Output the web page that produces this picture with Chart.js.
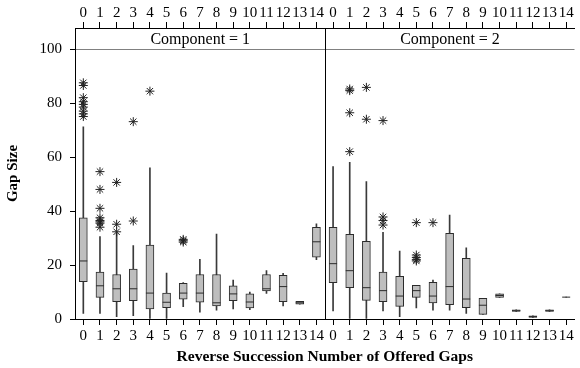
<!DOCTYPE html>
<html>
<head>
<meta charset="utf-8">
<script src="https://cdn.jsdelivr.net/npm/chart.js@4"></script>
<style>
  html, body { margin: 0; padding: 0; background: #fff; }
</style>
</head>
<body>
<canvas id="myChartGaps" width="580" height="368"></canvas>
<script>
const gapNumbers = ['0', '1', '2', '3', '4', '5', '6', '7', '8', '9', '10', '11', '12', '13', '14'];
const components = ['1', '2'];
const yTicks = [0, 20, 40, 60, 80, 100];

// component = 1
const lowC1 = [2.1, 2.1, 0.9, 1.2, 0.0, 0.0, 4.6, 2.5, 3.3, 3.7, 3.5, 9.5, 4.8, 5.5, 22.0];
const q1C1 = [13.8, 8.0, 6.4, 6.8, 3.7, 4.2, 7.3, 6.2, 4.8, 6.8, 4.1, 10.4, 6.4, 5.5, 22.9];
const medC1 = [21.5, 12.3, 11.2, 11.2, 9.6, 6.2, 9.6, 9.6, 6.0, 9.3, 6.3, 11.2, 12.0, 6.0, 28.6];
const q3C1 = [37.5, 17.4, 16.5, 18.5, 27.4, 9.6, 13.2, 16.5, 16.5, 12.3, 9.3, 16.5, 16.2, 6.5, 34.0];
const highC1 = [71.2, 30.5, 31.7, 27.2, 56.0, 17.0, 13.5, 22.1, 31.5, 14.4, 10.0, 17.9, 16.9, 6.5, 35.3];
const outC1 = [
  [87.5, 86.5, 82, 80.5, 79.5, 78.5, 77, 76, 75],
  [54.6, 48, 41, 37.5, 36.5, 36, 35.5, 34],
  [50.6, 35.1, 32.3],
  [73.1, 36.3],
  [84.4],
  [],
  [29.5, 29, 28.5],
  [], [], [], [], [], [], [], []
];

// component = 2
const lowC2 = [3.0, 0.0, 0.0, 3.0, 0.9, 4.1, 3.3, 3.3, 2.1, 1.7, 8.0, 2.8, 0.6, 2.8, 8.1];
const q1C2 = [13.5, 11.6, 6.9, 6.4, 4.7, 8.0, 6.0, 5.3, 4.2, 1.7, 8.0, 2.8, 0.6, 2.8, 8.1];
const medC2 = [20.5, 17.9, 11.6, 10.5, 8.5, 10.5, 8.5, 12.0, 7.4, 5.1, 8.7, 3.1, 0.9, 3.1, 8.1];
const q3C2 = [34.0, 31.4, 28.8, 17.4, 15.8, 12.5, 13.6, 31.7, 22.5, 7.7, 9.3, 3.4, 1.2, 3.4, 8.1];
const highC2 = [56.5, 58.0, 50.9, 32.1, 25.2, 12.5, 14.4, 38.5, 26.4, 7.7, 9.3, 3.4, 1.2, 3.4, 8.1];
const outC2 = [
  [],
  [85.2, 84.6, 76.4, 62.0],
  [85.8, 74.0],
  [73.5, 37.8, 36.5, 34.8],
  [],
  [35.7, 23.7, 22.8, 22.0, 21.5],
  [35.7],
  [], [], [], [], [], [], [], []
];

const labels = components.flatMap(c => gapNumbers.map(g => c + '-' + g));
const lows = lowC1.concat(lowC2);
const q1s = q1C1.concat(q1C2);
const meds = medC1.concat(medC2);
const q3s = q3C1.concat(q3C2);
const highs = highC1.concat(highC2);
const outliers = [];
[outC1, outC2].forEach((outs, c) => {
  outs.forEach((vals, i) => {
    vals.forEach(v => outliers.push({ x: labels[c * 15 + i], y: v }));
  });
});

const serif = "'Liberation Serif', 'DejaVu Serif', serif";
Chart.defaults.font.family = serif;
Chart.defaults.color = '#000';

const tickLabel = function (value) {
  return this.getLabelForValue(value).split('-')[1];
};

// divider between the two panels and the "Component = n" strip text
const panelPlugin = {
  id: 'panels',
  afterDraw(chart) {
    const ctx = chart.ctx;
    const x = chart.scales.x;
    const y = chart.scales.y;
    const area = chart.chartArea;
    const divX = Math.round((x.getPixelForValue(14) + x.getPixelForValue(15)) / 2) + 0.5;
    ctx.save();
    ctx.strokeStyle = '#000';
    ctx.lineWidth = 1;
    ctx.beginPath();
    ctx.moveTo(divX, area.top);
    ctx.lineTo(divX, area.bottom);
    ctx.stroke();
    ctx.font = '16px ' + serif;
    ctx.fillStyle = '#000';
    ctx.textAlign = 'center';
    ctx.textBaseline = 'middle';
    const stripY = (area.top + y.getPixelForValue(100)) / 2 + 1;
    ctx.fillText('Component = ' + components[0], (area.left + divX) / 2, stripY);
    ctx.fillText('Component = ' + components[1], (divX + area.right) / 2, stripY);
    ctx.restore();
  }
};

new Chart(document.getElementById('myChartGaps'), {
  type: 'bar',
  data: {
    labels: labels,
    datasets: [
      {
        label: 'whiskers',
        data: lows.map((v, i) => [v, highs[i]]),
        backgroundColor: '#3a3a3a',
        borderWidth: 0,
        barThickness: 1,
        grouped: false,
        order: 4
      },
      {
        label: 'box',
        data: q1s.map((v, i) => [v, q3s[i]]),
        backgroundColor: '#bebebe',
        borderColor: '#2b2b2b',
        borderWidth: 1,
        borderSkipped: false,
        barThickness: 8,
        grouped: false,
        order: 3
      },
      {
        label: 'median',
        type: 'line',
        data: meds,
        showLine: false,
        pointStyle: 'line',
        pointRadius: 4,
        pointBorderColor: '#2b2b2b',
        pointBorderWidth: 1,
        order: 2
      },
      {
        label: 'outliers',
        type: 'line',
        data: outliers,
        showLine: false,
        pointStyle: 'star',
        pointRadius: 4.5,
        pointBorderColor: '#222',
        pointBackgroundColor: 'rgba(0,0,0,0)',
        pointBorderWidth: 1,
        order: 1
      }
    ]
  },
  options: {
    responsive: false,
    animation: false,
    layout: { padding: 0 },
    plugins: {
      legend: { display: false },
      tooltip: { enabled: false }
    },
    scales: {
      x: {
        type: 'category',
        position: 'bottom',
        offset: true,
        grid: { offset: false, drawOnChartArea: false, tickLength: 6, color: '#000' },
        border: { display: true, color: '#000' },
        ticks: { autoSkip: false, maxRotation: 0, padding: 2, font: { size: 15 }, callback: tickLabel },
        title: {
          display: true,
          text: 'Reverse Succession Number of Offered Gaps',
          font: { size: 15.5, weight: 'bold' },
          padding: { top: 0, bottom: 2 }
        },
        afterFit(scale) { scale.height = 49; }
      },
      x2: {
        type: 'category',
        position: 'top',
        offset: true,
        grid: { offset: false, drawOnChartArea: false, tickLength: 6, color: '#000' },
        border: { display: true, color: '#000' },
        ticks: { autoSkip: false, maxRotation: 0, padding: 0, font: { size: 15 }, callback: tickLabel },
        afterFit(scale) { scale.height = 28; }
      },
      y: {
        min: 0,
        max: 107.8,
        afterBuildTicks(scale) { scale.ticks = yTicks.map(v => ({ value: v })); },
        grid: {
          color: ctx => (ctx.tick && ctx.tick.value === 100 ? '#808080' : 'rgba(0,0,0,0)'),
          tickColor: '#000',
          tickLength: 5
        },
        border: { display: true, color: '#000' },
        ticks: { padding: 8, font: { size: 15 } },
        title: {
          display: true,
          text: 'Gap Size',
          font: { size: 15, weight: 'bold' },
          padding: { top: 4, bottom: 0 }
        },
        afterFit(scale) { scale.width = 75; }
      }
    }
  },
  plugins: [panelPlugin]
});
</script>
</body>
</html>
